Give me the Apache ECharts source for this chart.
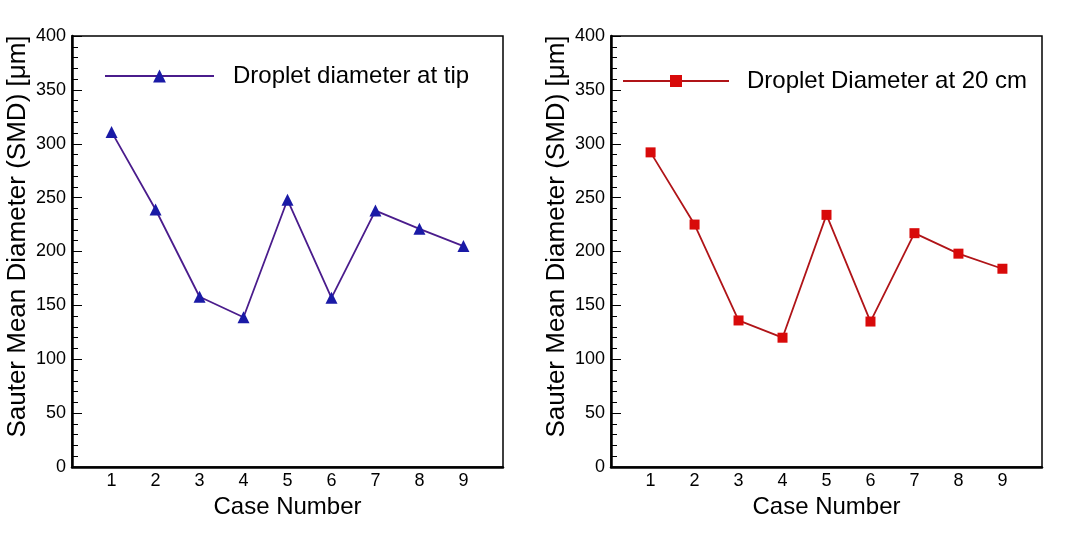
<!DOCTYPE html>
<html>
<head>
<meta charset="utf-8">
<script src="https://cdn.jsdelivr.net/npm/echarts@6/dist/echarts.min.js"></script>
<style>
html,body{margin:0;padding:0;background:#fff;}
#chart{width:1081px;height:540px;}
</style>
</head>
<body>
<div id="chart"></div>
<script>
const caseNumbers = [1, 2, 3, 4, 5, 6, 7, 8, 9];
const tipValues = [311, 239, 158, 139, 248, 157, 238, 221, 205];
const cm20Values = [292, 225, 136, 120, 234, 135, 217, 198, 184];
const yTicks = [0, 50, 100, 150, 200, 250, 300, 350, 400];
const tipName = 'Droplet diameter at tip';
const cm20Name = 'Droplet Diameter at 20 cm';
const xTitle = 'Case Number';
const yTitle = 'Sauter Mean Diameter (SMD) [\u03bcm]';

const font = '"Liberation Sans", Arial, sans-serif';

function xAxisCfg(idx) {
  return {
    type: 'value', gridIndex: idx, min: 0.1, max: 9.9,
    name: xTitle, nameLocation: 'middle', nameGap: 25,
    nameTextStyle: { fontFamily: font, fontSize: 24, color: '#000' },
    axisLine: { show: true, onZero: false, lineStyle: { color: '#000', width: 2.5 } },
    axisTick: { show: false },
    axisLabel: { customValues: caseNumbers, fontFamily: font, fontSize: 18, color: '#000', margin: 5 },
    splitLine: { show: false }
  };
}
function yAxisCfg(idx) {
  return {
    type: 'value', gridIndex: idx, min: 0, max: 400, interval: 50,
    name: yTitle, nameLocation: 'middle', nameGap: 41, nameRotate: 90,
    nameTextStyle: { fontFamily: font, fontSize: 26, color: '#000', padding: [0, 0, 0, 30] },
    axisLine: { show: true, lineStyle: { color: '#000', width: 2.5 } },
    axisTick: { show: true, inside: true, length: 10, lineStyle: { color: '#000', width: 1 } },
    minorTick: { show: true, splitNumber: 5, length: 6, lineStyle: { color: '#000', width: 1 } },
    axisLabel: { customValues: yTicks, fontFamily: font, fontSize: 18, color: '#000', margin: 6 },
    splitLine: { show: false }
  };
}

const chart = echarts.init(document.getElementById('chart'), null, { renderer: 'canvas' });
chart.setOption({
  backgroundColor: '#fff',
  animation: false,
  grid: [
    { left: 72, right: 578, top: 36, bottom: 73, show: true, borderColor: '#000', borderWidth: 1.5, backgroundColor: 'transparent' },
    { left: 611, right: 39, top: 36, bottom: 73, show: true, borderColor: '#000', borderWidth: 1.5, backgroundColor: 'transparent' }
  ],
  legend: [
    { data: [tipName], left: 104, top: 64, itemWidth: 109, itemHeight: 16, padding: 0,
      textStyle: { fontFamily: font, fontSize: 24, color: '#000', padding: [0, 0, 0, 14] } },
    { data: [cm20Name], left: 622, top: 69, itemWidth: 106, itemHeight: 15, padding: 0,
      textStyle: { fontFamily: font, fontSize: 24, color: '#000', padding: [0, 0, 0, 13] } }
  ],
  xAxis: [xAxisCfg(0), xAxisCfg(1)],
  yAxis: [yAxisCfg(0), yAxisCfg(1)],
  series: [
    { name: tipName, type: 'line', xAxisIndex: 0, yAxisIndex: 0,
      data: caseNumbers.map((c, i) => [c, tipValues[i]]),
      symbol: 'triangle', symbolSize: 12,
      lineStyle: { color: '#4a1c8c', width: 1.8 },
      itemStyle: { color: '#1a1aa6' } },
    { name: cm20Name, type: 'line', xAxisIndex: 1, yAxisIndex: 1,
      data: caseNumbers.map((c, i) => [c, cm20Values[i]]),
      symbol: 'rect', symbolSize: 10,
      lineStyle: { color: '#b01418', width: 1.8 },
      itemStyle: { color: '#d80a0a' } }
  ]
});
</script>
</body>
</html>
